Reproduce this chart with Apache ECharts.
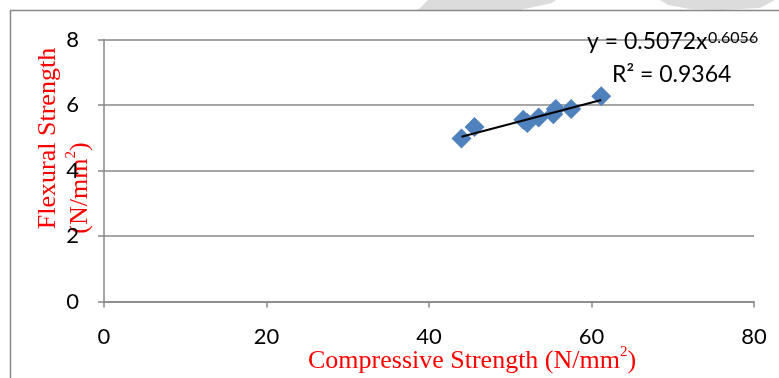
<!DOCTYPE html>
<html>
<head>
<meta charset="utf-8">
<script src="https://cdn.jsdelivr.net/npm/echarts@6/dist/echarts.min.js"></script>
<style>html,body{margin:0;padding:0;background:#fff}#c{width:779px;height:378px}</style>
</head>
<body>
<div id="c"></div>
<script>
var compressive = [44.0, 45.6, 51.6, 52.1, 53.5, 55.3, 55.6, 57.5, 61.2];
var flexural    = [4.98, 5.33, 5.55, 5.45, 5.62, 5.72, 5.88, 5.88, 6.27];
var trendX = [44.0, 61.2];
var trendY = [5.03, 6.15];
var xTicks = [0, 20, 40, 60, 80];
var yTicks = [0, 2, 4, 6, 8];
var equation = 'y = 0.5072x';
var exponent = '0.6056';
var rSquared = 'R² = 0.9364';

var chart = echarts.init(document.getElementById('c'), null, {renderer: 'canvas'});
var pts = compressive.map(function (x, i) { return [x, flexural[i]]; });
var trend = trendX.map(function (x, i) { return [x, trendY[i]]; });
var tickFont = {fontFamily: 'Lato', fontSize: 22, color: '#000'};
var red = '#ff0000';
var serif = 'Liberation Serif';

chart.setOption({
  animation: false,
  grid: {left: 104, right: 25, top: 39.5, bottom: 76.5, containLabel: false},
  xAxis: {
    type: 'value', min: xTicks[0], max: xTicks[xTicks.length - 1], interval: 20,
    axisLine: {show: true, lineStyle: {color: '#888', width: 1.5}},
    axisTick: {show: true, inside: false, length: 6, lineStyle: {color: '#888', width: 1.5}},
    splitLine: {show: false},
    axisLabel: Object.assign({margin: 24}, tickFont)
  },
  yAxis: {
    type: 'value', min: yTicks[0], max: yTicks[yTicks.length - 1], interval: 2,
    axisLine: {show: true, lineStyle: {color: '#888', width: 1.5}},
    axisTick: {show: true, length: 6, lineStyle: {color: '#888', width: 1.5}},
    splitLine: {show: true, lineStyle: {color: '#888', width: 1.5}},
    axisLabel: Object.assign({margin: 25}, tickFont)
  },
  series: [
    {
      type: 'scatter', data: pts, symbol: 'diamond', symbolSize: [20, 20],
      itemStyle: {color: '#4F81BD', opacity: 1}, z: 2
    },
    {
      type: 'line', data: trend, showSymbol: false, symbol: 'none',
      lineStyle: {color: '#000', width: 2}, z: 3
    }
  ],
  graphic: [
    {type: 'polygon', shape: {points: [[418, 10], [428, 0], [556, 0], [552, 3], [520, 10]]}, style: {fill: '#dcdcdc'}, silent: true},
    {type: 'polygon', shape: {points: [[660, 0], [775, 0], [760, 8], [720, 10], [690, 9], [668, 5]]}, style: {fill: '#dcdcdc'}, silent: true},
    {type: 'line', shape: {x1: 10, y1: 10.5, x2: 779, y2: 10.5}, style: {stroke: '#888', lineWidth: 1.5}},
    {type: 'line', shape: {x1: 10.5, y1: 10, x2: 10.5, y2: 378}, style: {stroke: '#888', lineWidth: 1.5}},
    {
      type: 'text', x: 587, y: 53, z: 10,
      style: {text: equation, fontFamily: 'Lato', fontSize: 23, fill: '#000', verticalAlign: 'bottom'}
    },
    {
      type: 'text', x: 708, y: 46, z: 10,
      style: {text: exponent, fontFamily: 'Lato', fontSize: 16, fill: '#000', verticalAlign: 'bottom'}
    },
    {
      type: 'text', x: 612, y: 86, z: 10,
      style: {text: rSquared, fontFamily: 'Lato', fontSize: 23, fill: '#000', verticalAlign: 'bottom'}
    },
    {
      type: 'text', x: 308, y: 345,
      style: {
        text: '{a|Compressive Strength (N/mm}{b|2}{a|)}',
        rich: {
          a: {fontFamily: serif, fontSize: 26, fill: red, lineHeight: 29, verticalAlign: 'bottom'},
          b: {fontFamily: serif, fontSize: 15, fill: red, lineHeight: 29, verticalAlign: 'top'}
        }
      }
    },
    {
      type: 'text', x: 48.5, y: 138.5, rotation: Math.PI / 2,
      style: {
        text: 'Flexural Strength', fontFamily: serif, fontSize: 26, fill: red,
        align: 'center', verticalAlign: 'middle'
      }
    },
    {
      type: 'text', x: 78.5, y: 188, rotation: Math.PI / 2,
      style: {
        text: '{a|(N/mm}{b|2}{a|)}', align: 'center', verticalAlign: 'middle',
        rich: {
          a: {fontFamily: serif, fontSize: 26, fill: red, lineHeight: 29, verticalAlign: 'bottom'},
          b: {fontFamily: serif, fontSize: 15, fill: red, lineHeight: 29, verticalAlign: 'top'}
        }
      }
    }
  ]
});
</script>
</body>
</html>
